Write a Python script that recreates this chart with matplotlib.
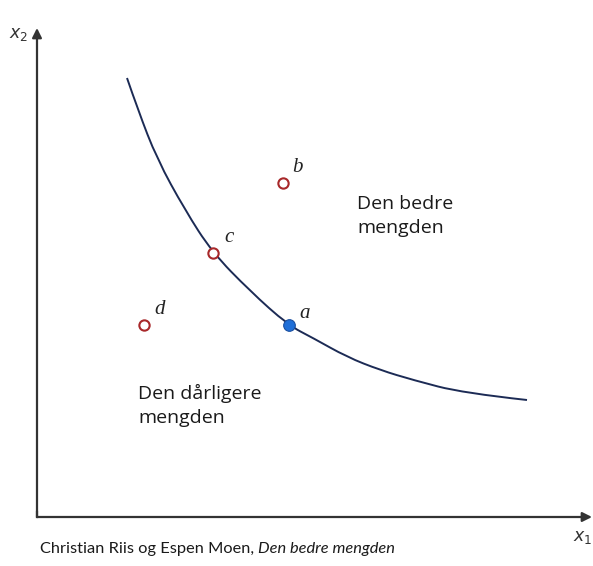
import matplotlib
matplotlib.use("Agg")
import matplotlib.pyplot as plt
from matplotlib.path import Path
from matplotlib.patches import PathPatch

# Indifference curve (origin at axis corner)
curve_x = [90, 101, 120, 148, 175, 213, 251, 276, 310, 343, 376, 426, 490]
curve_y = [439, 407, 358, 307, 265, 226, 192, 179, 160, 147, 137, 124, 117]

# Bundles
open_names = ["b", "c", "d"]
open_x = [246, 176, 107]
open_y = [334, 264, 192]
filled_names = ["a"]
filled_x = [252]
filled_y = [192]

x_label = "$x_1$"
y_label = "$x_2$"
better_text = "Den bedre\nmengden"
worse_text = "Den dårligere\nmengden"
caption_plain = "Christian Riis og Espen Moen, "
caption_italic = "Den bedre mengden"

W, H = 593, 566
fig = plt.figure(figsize=(W / 100, H / 100), dpi=100)
ax = fig.add_axes([0, 0, 1, 1])
ax.set_xlim(-37, W - 37)
ax.set_ylim(517 - H, 517)
ax.axis("off")

axis_col = "#333333"
ax.annotate("", xy=(0, 489), xytext=(0, 0),
            arrowprops=dict(arrowstyle="-|>", color=axis_col, lw=1.6,
                            mutation_scale=14, shrinkA=0, shrinkB=0))
ax.annotate("", xy=(555, 0), xytext=(0, 0),
            arrowprops=dict(arrowstyle="-|>", color=axis_col, lw=1.6,
                            mutation_scale=14, shrinkA=0, shrinkB=0))
ax.plot([0, 0], [0, 5], color=axis_col, lw=1.6, solid_capstyle="projecting")

ax.text(-28, 483, y_label, fontsize=12.5, color="#333333", ha="left", va="center")
ax.text(555, -20, x_label, fontsize=12.5, color="#333333", ha="right", va="center")

# smooth curve: quadratic Bezier pieces through the midpoints of read points
pts = list(zip(curve_x, curve_y))
verts = [pts[0]]
codes = [Path.MOVETO]
for i in range(1, len(pts) - 1):
    end = pts[i + 1] if i == len(pts) - 2 else ((pts[i][0] + pts[i + 1][0]) / 2,
                                                 (pts[i][1] + pts[i + 1][1]) / 2)
    verts += [pts[i], end]
    codes += [Path.CURVE3, Path.CURVE3]
ax.add_patch(PathPatch(Path(verts, codes), facecolor="none",
                       edgecolor="#1c2b55", lw=1.4))

ax.scatter(open_x, open_y, s=55, facecolors="white", edgecolors="#a8282a",
           linewidths=1.5, zorder=3)
ax.scatter(filled_x, filled_y, s=70, color="#1f6fd8", edgecolors="#1a4fa0",
           linewidths=0.8, zorder=3)

label_off = {"a": (10, 12), "b": (9, 16), "c": (11, 15), "d": (10, 15)}
for n, x, y in zip(open_names + filled_names, open_x + filled_x, open_y + filled_y):
    dx, dy = label_off[n]
    ax.text(x + dx, y + dy, n, fontsize=15, style="italic", family="Liberation Serif",
            color="#222222", ha="left", va="center")

ax.text(320, 322, better_text, fontsize=14, family="Open Sans", color="#1a1a1a",
        ha="left", va="top", linespacing=1.4)
ax.text(101, 133, worse_text, fontsize=14, family="Open Sans", color="#1a1a1a",
        ha="left", va="top", linespacing=1.4)

t = ax.text(3, -32, caption_plain, fontsize=11.8, family="Lato", color="#1a1a1a",
            ha="left", va="center")
fig.canvas.draw()
bb = t.get_window_extent()
x_end = ax.transData.inverted().transform((bb.x1, bb.y0))[0]
ax.text(x_end, -32, caption_italic, fontsize=11.8, family="Lato", style="italic",
        color="#1a1a1a", ha="left", va="center")

fig.savefig("out.png", dpi=100, facecolor="white")
